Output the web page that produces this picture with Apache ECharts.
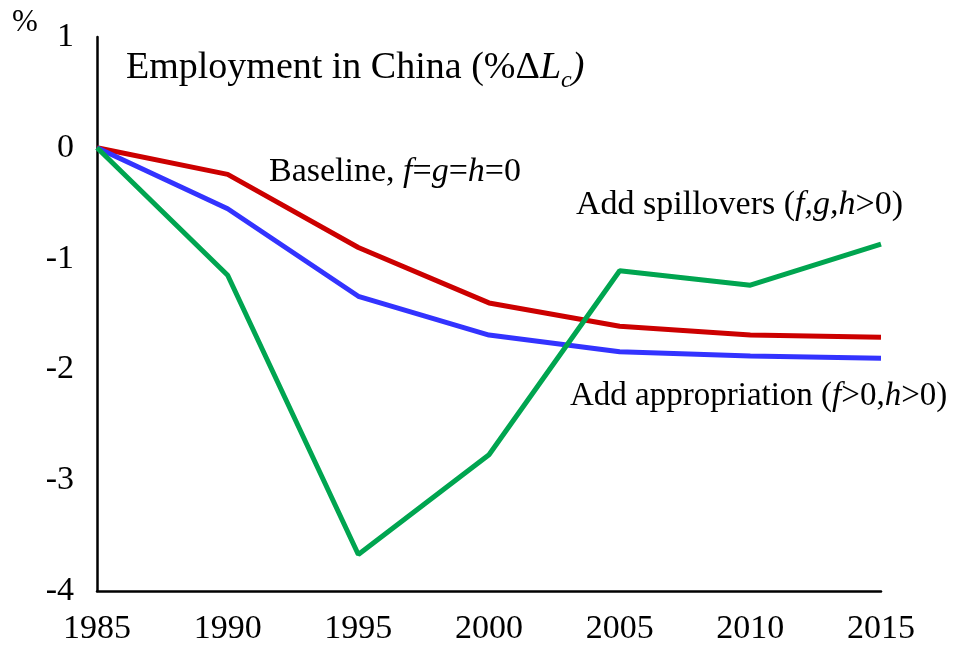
<!DOCTYPE html>
<html><head><meta charset="utf-8">
<script src="https://cdn.jsdelivr.net/npm/echarts@6/dist/echarts.min.js"></script>
<style>html,body{margin:0;padding:0;background:#fff}#c{width:956px;height:646px}</style>
</head><body><div id="c"></div>
<script>
const years = [1985, 1990, 1995, 2000, 2005, 2010, 2015];
const baseline = [0, -0.24, -0.90, -1.40, -1.61, -1.69, -1.71];
const appropriation = [0, -0.55, -1.34, -1.69, -1.84, -1.88, -1.90];
const spillovers = [0, -1.15, -3.67, -2.77, -1.11, -1.24, -0.87];
const F = '"Liberation Serif", "Times New Roman", serif';
const pairs = a => years.map((y, i) => [y, a[i]]);
const chart = echarts.init(document.getElementById('c'), null, {renderer: 'canvas'});
const mkRich = s => ({
  n: {fontFamily: F, fontSize: s, color: '#000'},
  i: {fontFamily: F, fontSize: s, fontStyle: 'italic', color: '#000'}
});
chart.setOption({
  animation: false,
  grid: {left: 97, right: 75, top: 37, bottom: 53},
  xAxis: {
    type: 'value', min: 1985, max: 2015, interval: 5,
    axisLine: {onZero: false, lineStyle: {color: '#000', width: 2.5}},
    axisTick: {show: false}, splitLine: {show: false},
    axisLabel: {fontFamily: F, fontSize: 34, color: '#000', margin: 21, formatter: v => String(v)}
  },
  yAxis: {
    type: 'value', min: -4, max: 1, interval: 1,
    axisLine: {show: true, onZero: false, lineStyle: {color: '#000', width: 2.5}},
    axisTick: {show: false}, splitLine: {show: false},
    axisLabel: {fontFamily: F, fontSize: 34, color: '#000', margin: 23}
  },
  series: [
    {type: 'line', data: pairs(baseline), symbol: 'none', lineStyle: {color: '#CC0000', width: 5}},
    {type: 'line', data: pairs(appropriation), symbol: 'none', lineStyle: {color: '#3333FF', width: 5}},
    {type: 'line', data: pairs(spillovers), symbol: 'none', lineStyle: {color: '#00A550', width: 5}}
  ],
  graphic: [
    {type: 'text', left: 12, top: 7, style: {text: '%', fontFamily: F, fontSize: 31, fill: '#000'}},
    {type: 'text', left: 126, top: 49, style: {
      text: '{n|Employment in China (%Δ}{i|L}{s|c}{i|)}',
      rich: {
        n: {fontFamily: F, fontSize: 38, color: '#000'},
        i: {fontFamily: F, fontSize: 38, fontStyle: 'italic', color: '#000'},
        s: {fontFamily: F, fontSize: 24, fontStyle: 'italic', color: '#000', padding: [26, 0, 0, 0]}
      }
    }},
    {type: 'text', left: 269, top: 155, style: {text: '{n|Baseline, }{i|f}{n|=}{i|g}{n|=}{i|h}{n|=0}', rich: mkRich(34)}},
    {type: 'text', left: 576, top: 188, style: {text: '{n|Add spillovers (}{i|f,g,h}{n|>0)}', rich: mkRich(34)}},
    {type: 'text', left: 570, top: 380, style: {text: '{n|Add appropriation (}{i|f}{n|>0,}{i|h}{n|>0)}', rich: mkRich(33)}}
  ]
});
</script></body></html>
